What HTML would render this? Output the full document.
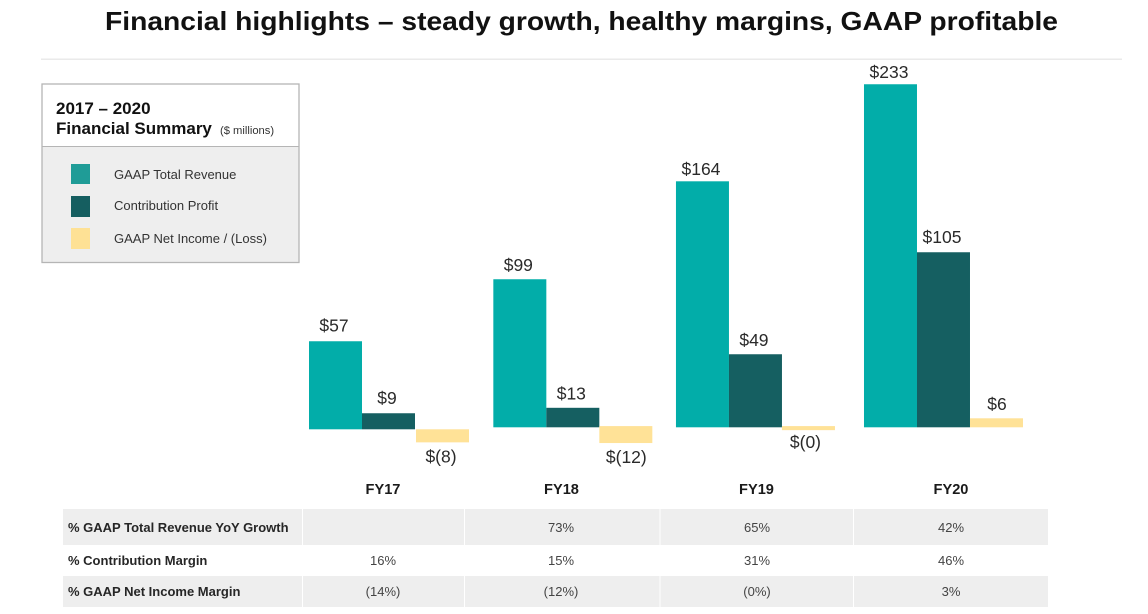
<!DOCTYPE html>
<html lang="en">
<head>
<meta charset="utf-8">
<title>Financial highlights</title>
<style>
html,body{margin:0;padding:0;background:#fff;width:1148px;height:614px;overflow:hidden}
svg{display:block;font-family:"Liberation Sans",Arial,sans-serif}
.lg{font-size:13px;fill:#333}
.fy{font-size:14.6px;font-weight:700;fill:#1a1a1a;text-anchor:middle}
.rl{font-size:13px;font-weight:700;fill:#262626}
.rv{font-size:13px;fill:#444;text-anchor:middle}
.val{font-size:17.5px;fill:#2a2a2a;text-anchor:middle}
</style>
</head>
<body>
<svg id="chart" width="1148" height="614" viewBox="0 0 1148 614" xmlns="http://www.w3.org/2000/svg">
  <text x="105" y="30" font-size="26" font-weight="700" fill="#111" textLength="953" lengthAdjust="spacingAndGlyphs">Financial highlights – steady growth, healthy margins, GAAP profitable</text>
  <rect x="41" y="58.5" width="1081" height="1.5" fill="#eaeaea"/>

  <g>
    <rect x="42" y="84" width="257" height="62" fill="#fff"/>
    <rect x="42" y="146" width="257" height="116.5" fill="#eeeeee"/>
    <rect x="42" y="84" width="257" height="178.5" fill="none" stroke="#b5b5b5" stroke-width="1.3"/>
    <line x1="42" y1="146.5" x2="299" y2="146.5" stroke="#b5b5b5" stroke-width="1"/>
    <text x="56" y="114" font-size="17" font-weight="700" fill="#111">2017 – 2020</text>
    <text x="56" y="134" font-size="17" font-weight="700" fill="#111">Financial Summary</text>
    <text x="220" y="134" font-size="11.2" fill="#333">($ millions)</text>
    <rect x="71" y="164" width="19" height="20" fill="#1f9c97"/>
    <text class="lg" x="114" y="179">GAAP Total Revenue</text>
    <rect x="71" y="196" width="19" height="21" fill="#155e60"/>
    <text class="lg" x="114" y="210">Contribution Profit</text>
    <rect x="71" y="228" width="19" height="21" fill="#fee195"/>
    <text class="lg" x="114" y="243">GAAP Net Income / (Loss)</text>
  </g>

  <g id="bars"></g>

  <g>
    <text class="fy" x="383" y="494">FY17</text>
    <text class="fy" x="561.5" y="494">FY18</text>
    <text class="fy" x="756.5" y="494">FY19</text>
    <text class="fy" x="951" y="494">FY20</text>

    <rect x="63" y="509" width="985" height="36" fill="#eeeeee"/>
    <rect x="63" y="576" width="985" height="31" fill="#eeeeee"/>
    <g fill="#fff">
      <rect x="302" y="509" width="1" height="98"/>
      <rect x="464" y="509" width="1" height="98"/>
      <rect x="659.5" y="509" width="1" height="98"/>
      <rect x="853" y="509" width="1" height="98"/>
    </g>

    <text class="rl" x="68" y="532">% GAAP Total Revenue YoY Growth</text>
    <text class="rv" x="561" y="532">73%</text>
    <text class="rv" x="757" y="532">65%</text>
    <text class="rv" x="951" y="532">42%</text>

    <text class="rl" x="68" y="565">% Contribution Margin</text>
    <text class="rv" x="383" y="565">16%</text>
    <text class="rv" x="561" y="565">15%</text>
    <text class="rv" x="757" y="565">31%</text>
    <text class="rv" x="951" y="565">46%</text>

    <text class="rl" x="68" y="596">% GAAP Net Income Margin</text>
    <text class="rv" x="383" y="596">(14%)</text>
    <text class="rv" x="561" y="596">(12%)</text>
    <text class="rv" x="757" y="596">(0%)</text>
    <text class="rv" x="951" y="596">3%</text>
  </g>
</svg>
<script>
// Bar lengths, in $ millions. The source's bars are not
// strictly to scale with their printed labels, so the printed labels are kept separately.
const categories = ['FY17', 'FY18', 'FY19', 'FY20'];
const revenueValues = [58.7, 98.7, 164, 228.7];
const contributionValues = [10.7, 13, 48.7, 116.7];
const netIncomeValues = [-8.7, -11.3, -2.7, 6];
const revenueLabels = ['$57', '$99', '$164', '$233'];
const contributionLabels = ['$9', '$13', '$49', '$105'];
const netIncomeLabels = ['$(8)', '$(12)', '$(0)', '$6'];

const SVG_NS = 'http://www.w3.org/2000/svg';
const root = document.getElementById('bars');
const PX_PER_MILLION = 1.5;
const BAR_WIDTH = 53;
const FIRST_GROUP_LEFT = 309;
const GROUP_STEP = 184.33;
const ZERO_Y = 427.3;
const LABEL_SHIFT_X = -1.5;

// Hand-placed groups in the source slide sit slightly off an even grid.
function groupX(i) {
  const nudge = i === 2 ? -1.7 : i === 3 ? 2 : 0;
  return FIRST_GROUP_LEFT + i * GROUP_STEP + nudge;
}
function baseline(i) {
  return i === 0 ? ZERO_Y + 2 : ZERO_Y;
}
function barLength(v) {
  return Math.abs(v) * PX_PER_MILLION;
}
// Gap between a bar's end and its label, as hand-placed in the source slide.
function labelGap(key, i, v) {
  if (v < 0) return i === 2 ? 18 : 20;
  if (key === 'revenue') return i === 0 ? 10 : i === 1 ? 8.5 : 6.5;
  if (key === 'contribution') return (i === 0 || i === 3) ? 9.5 : 8.5;
  return 8.5;
}
// Horizontal nudge of net-income labels relative to their bars.
function netLabelNudge(i) {
  if (i === 2) return -1.5;
  if (i === 0) return 0;
  return 2;
}

const seriesList = [
  { key: 'revenue', values: revenueValues, labels: revenueLabels, color: '#02ada9', offset: 0 },
  { key: 'contribution', values: contributionValues, labels: contributionLabels, color: '#155f61', offset: BAR_WIDTH },
  { key: 'net-income', values: netIncomeValues, labels: netIncomeLabels, color: '#ffe297', offset: 2 * BAR_WIDTH }
];

seriesList.forEach(function (series) {
  series.values.forEach(function (v, i) {
    const isNet = series.key === 'net-income';
    const gapFix = (isNet && i === 0) ? 1 : 0;
    const x = groupX(i) + series.offset + gapFix;
    const len = barLength(v);
    const lift = (isNet && v < 0 && i > 0) ? 1.2 : 0;
    const base = baseline(i) - lift;
    const top = v >= 0 ? base - len : base;
    const gap = labelGap(series.key, i, v);
    const extraX = isNet ? netLabelNudge(i) : 0;

    const bar = document.createElementNS(SVG_NS, 'rect');
    
    
    bar.setAttribute('x', x);
    bar.setAttribute('y', top);
    bar.setAttribute('width', BAR_WIDTH);
    bar.setAttribute('height', len);
    bar.setAttribute('fill', series.color);
    root.appendChild(bar);

    const label = document.createElementNS(SVG_NS, 'text');
    
    
    label.setAttribute('class', 'val');
    label.setAttribute('x', x + BAR_WIDTH / 2 + LABEL_SHIFT_X + extraX);
    label.setAttribute('y', v >= 0 ? top - gap : top + len + gap);
    label.textContent = series.labels[i];
    root.appendChild(label);
  });
});
</script>
</body>
</html>
